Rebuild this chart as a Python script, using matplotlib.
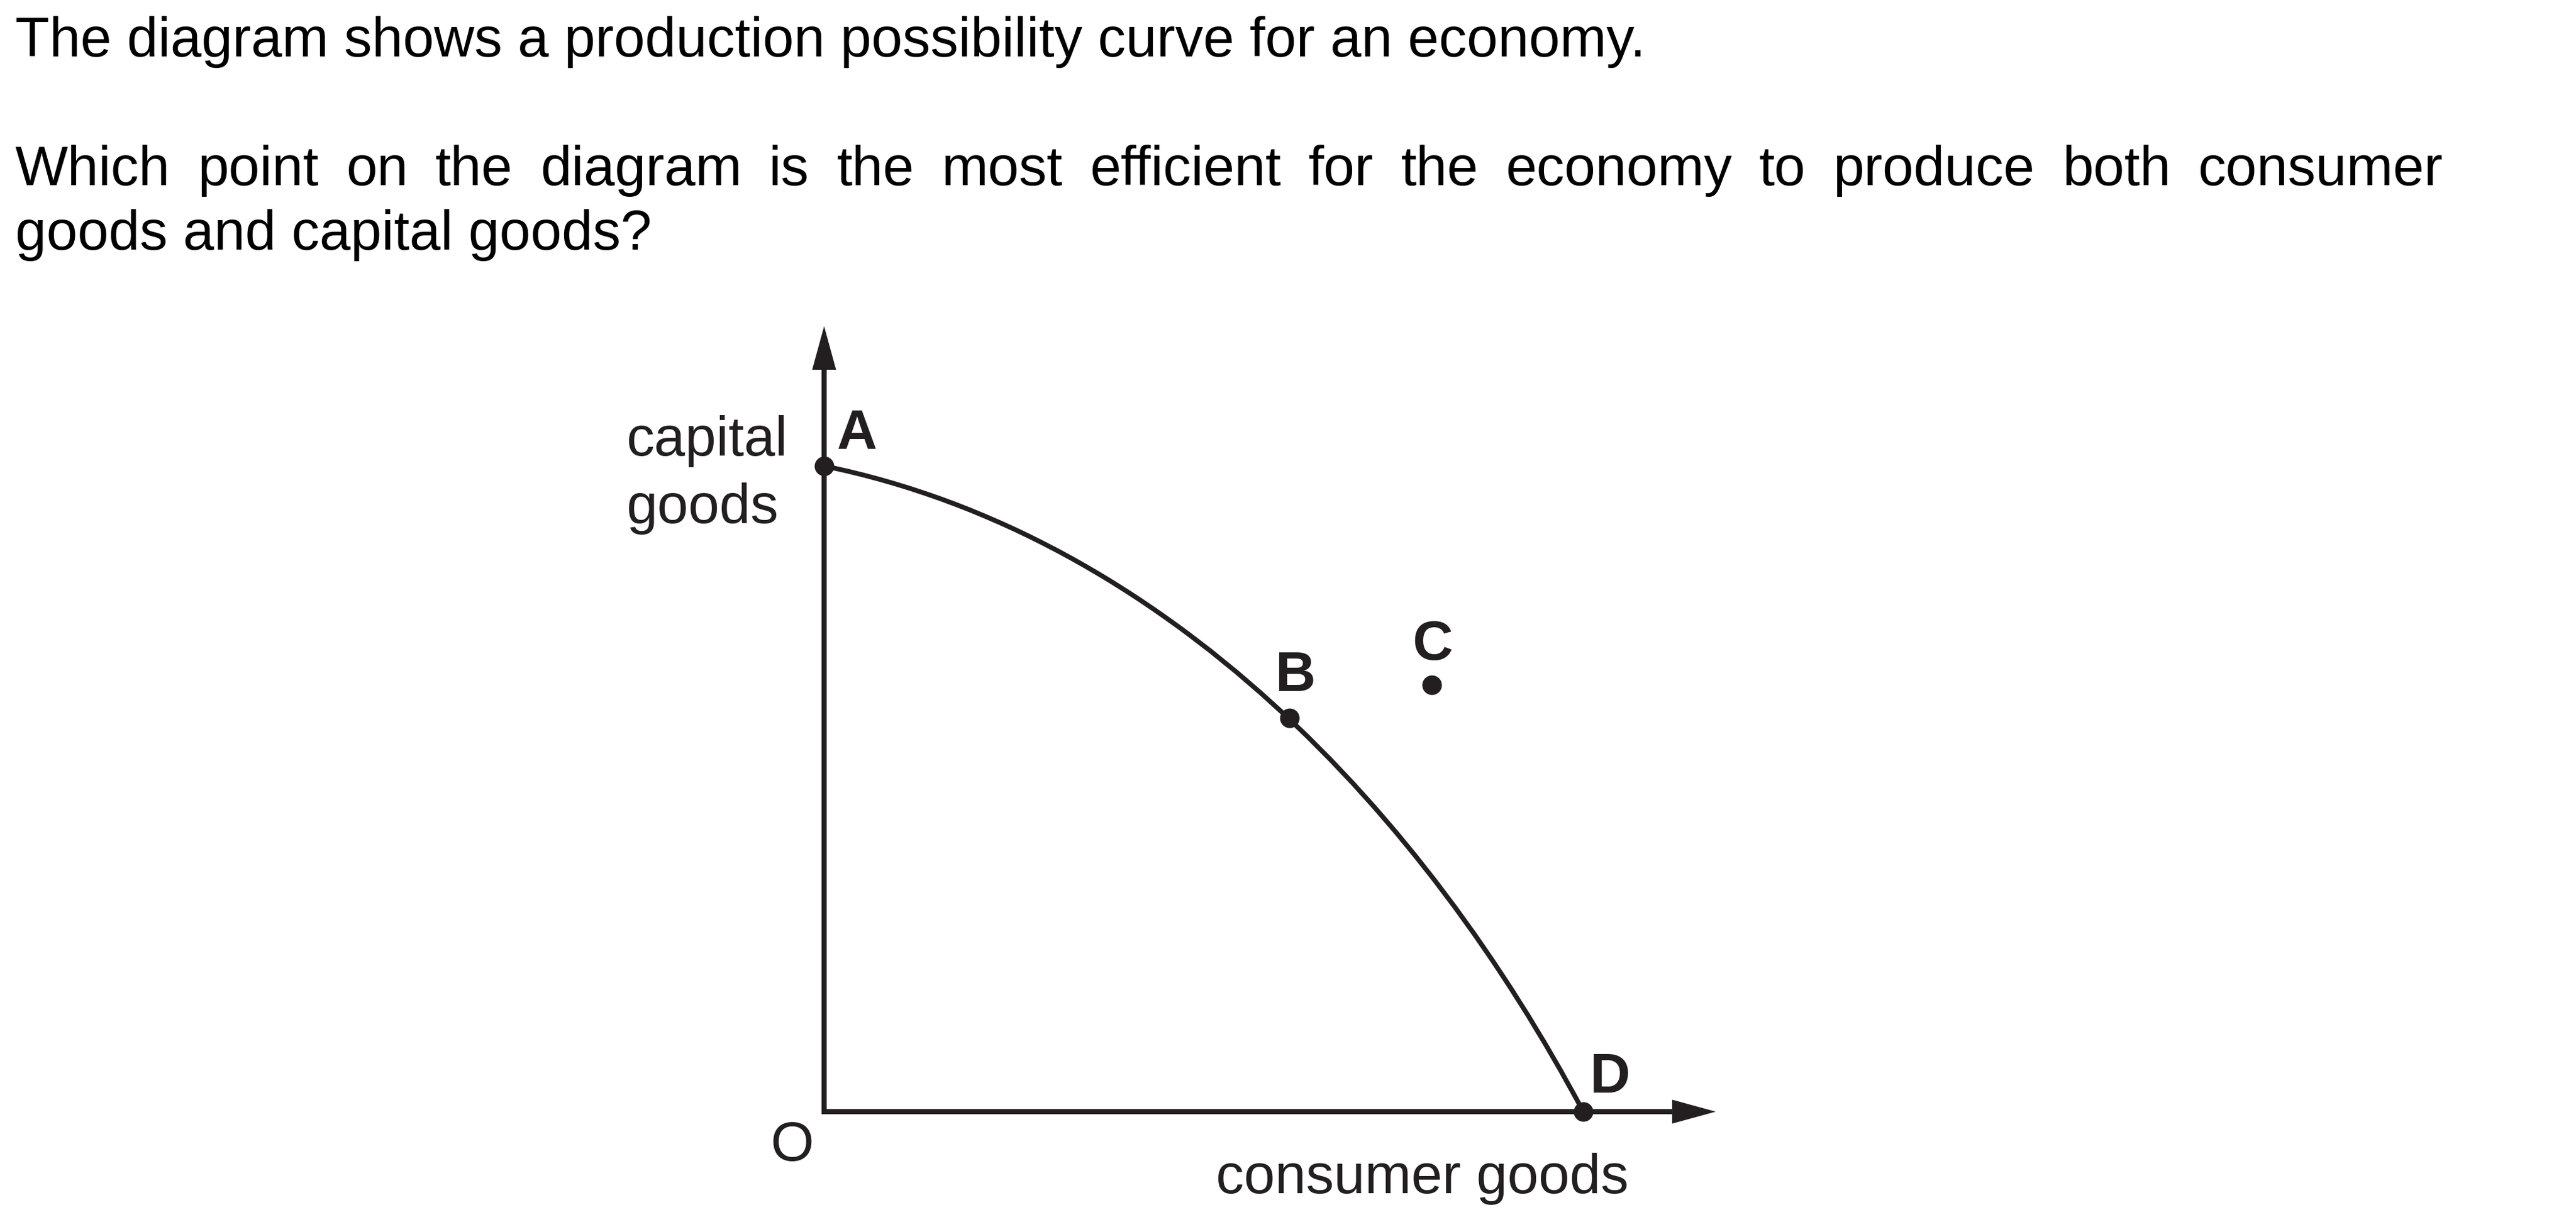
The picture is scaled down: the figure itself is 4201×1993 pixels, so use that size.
import matplotlib
matplotlib.use("Agg")
import matplotlib.pyplot as plt
import numpy as np
from matplotlib.path import Path
from matplotlib.patches import PathPatch, Polygon

# ---------------- data ----------------
header_line1 = "The diagram shows a production possibility curve for an economy."
header_line2 = "Which point on the diagram is the most efficient for the economy to produce both consumer"
header_line3 = "goods and capital goods?"

x_label = "consumer goods"
y_label_lines = ["capital", "goods"]
origin_label = "O"

# production possibility curve (consumer goods, capital goods)
ppc_consumer = [0, 1.29, 7.75, 15.83, 23.91, 31.99, 36.83, 44.91, 52.99, 61.31, 65.35,
                73.18, 81.26, 89.34, 92.33, 97.42, 100]
ppc_capital = [100, 99.72, 97.91, 94.97, 90.98, 85.94, 82.72, 76.26, 68.95, 60.97, 56.60,
               46.63, 34.57, 20.80, 15.19, 5.22, 0]

point_names = ["A", "B", "C", "D"]
point_consumer = [0, 61.31, 80.05, 100]
point_capital = [100, 60.97, 66.1, 0]

cons_axis_max = 117.45
cap_axis_max = 121.65

# ---------------- style ----------------
W, H = 4201, 1993
DPI = 100
FS = 65.5
INK = "#231f20"
FONT = "Liberation Sans"
plt.rcParams["font.family"] = [FONT, "DejaVu Sans"]

fig = plt.figure(figsize=(W / DPI, H / DPI), dpi=DPI)
fig.patch.set_facecolor("white")
ax = fig.add_axes([0, 0, 1, 1])
ax.set_xlim(-108.56, 230.77)
ax.set_ylim(-17.09, 172.17)
ax.axis("off")

px_x = 12.38   # pixels per consumer unit
px_y = 10.53   # pixels per capital unit

# axes lines
head_len = 71
head_half = 19.5
ybase = cap_axis_max - head_len / px_y
xbase = cons_axis_max - head_len / px_x
ax.plot([0, 0, xbase], [ybase, 0, 0], color=INK, lw=6.1,
        solid_joinstyle="miter", solid_capstyle="butt", zorder=2)
ax.add_patch(Polygon([(0, cap_axis_max), (-head_half / px_x, ybase), (head_half / px_x, ybase)],
                     closed=True, facecolor=INK, edgecolor="none", zorder=3))
ax.add_patch(Polygon([(cons_axis_max, 0), (xbase, -head_half / px_y), (xbase, head_half / px_y)],
                     closed=True, facecolor=INK, edgecolor="none", zorder=3))

# smooth rendering of the curve: least-squares cubic Bezier through the read points
Q = np.column_stack([np.array(ppc_consumer) * px_x, np.array(ppc_capital) * px_y])
P0, P3 = Q[0], Q[-1]
d = np.r_[0, np.cumsum(np.hypot(*np.diff(Q, axis=0).T))]
t = d / d[-1]
for _ in range(60):
    b0 = (1 - t) ** 3
    b1 = 3 * (1 - t) ** 2 * t
    b2 = 3 * (1 - t) * t ** 2
    b3 = t ** 3
    R = Q - np.outer(b0, P0) - np.outer(b3, P3)
    C, *_ = np.linalg.lstsq(np.column_stack([b1, b2]), R, rcond=None)
    P1, P2 = C
    B = np.outer(b0, P0) + np.outer(b1, P1) + np.outer(b2, P2) + np.outer(b3, P3)
    dB = (np.outer(3 * (1 - t) ** 2, P1 - P0) + np.outer(6 * (1 - t) * t, P2 - P1)
          + np.outer(3 * t ** 2, P3 - P2))
    ddB = np.outer(6 * (1 - t), P2 - 2 * P1 + P0) + np.outer(6 * t, P3 - 2 * P2 + P1)
    num = np.sum((B - Q) * dB, axis=1)
    den = np.sum(dB * dB + (B - Q) * ddB, axis=1)
    t = np.clip(t - num / den, 0, 1)
    t[0], t[-1] = 0.0, 1.0
ctrl = [P0, P1, P2, P3]
verts = [(p[0] / px_x, p[1] / px_y) for p in ctrl]
codes = [Path.MOVETO, Path.CURVE4, Path.CURVE4, Path.CURVE4]
ax.add_patch(PathPatch(Path(verts, codes), facecolor="none", edgecolor=INK, lw=5.6,
                       capstyle="butt", zorder=2))

# points
ax.plot(point_consumer, point_capital, "o", color=INK, ms=23, mew=0, zorder=4)

# point labels (offsets in pixels)
label_offsets = {"A": (21, 28), "B": (-23, 44), "C": (-32, 41), "D": (11, 31)}
for name, cx, cy in zip(point_names, point_consumer, point_capital):
    dx, dy = label_offsets[name]
    ax.annotate(name, xy=(cx, cy), xytext=(dx, dy), textcoords="offset pixels",
                ha="left", va="baseline", fontsize=FS, fontweight="bold", color=INK,
                family=FONT)

def fx(px):
    return px / W

def fy(py):
    return 1 - py / H

# axis labels
fig.text(fx(1021), fy(743), y_label_lines[0], ha="left", va="baseline", fontsize=FS, color=INK)
fig.text(fx(1021), fy(853), y_label_lines[1], ha="left", va="baseline", fontsize=FS, color=INK)
fig.text(fx(1983), fy(1946), x_label, ha="left", va="baseline", fontsize=FS, color=INK)
fig.text(fx(1257), fy(1893), origin_label, ha="left", va="baseline", fontsize=FS, color=INK)

# header text
LEFT = 25
fig.text(fx(LEFT), fy(92), header_line1, ha="left", va="baseline", fontsize=FS, color="black")
fig.text(fx(LEFT), fy(407), header_line3, ha="left", va="baseline", fontsize=FS, color="black")

# justified line 2
renderer = fig.canvas.get_renderer()
words = header_line2.split()
objs = [fig.text(0, fy(302), w, ha="left", va="baseline", fontsize=FS, color="black") for w in words]
widths = [o.get_window_extent(renderer=renderer).width for o in objs]
RIGHT = 3984
gap = (RIGHT - LEFT - sum(widths)) / (len(words) - 1)
xpos = LEFT
for o, w in zip(objs, widths):
    o.set_x(fx(xpos))
    xpos += w + gap

fig.savefig("out.png", dpi=DPI, facecolor="white")
